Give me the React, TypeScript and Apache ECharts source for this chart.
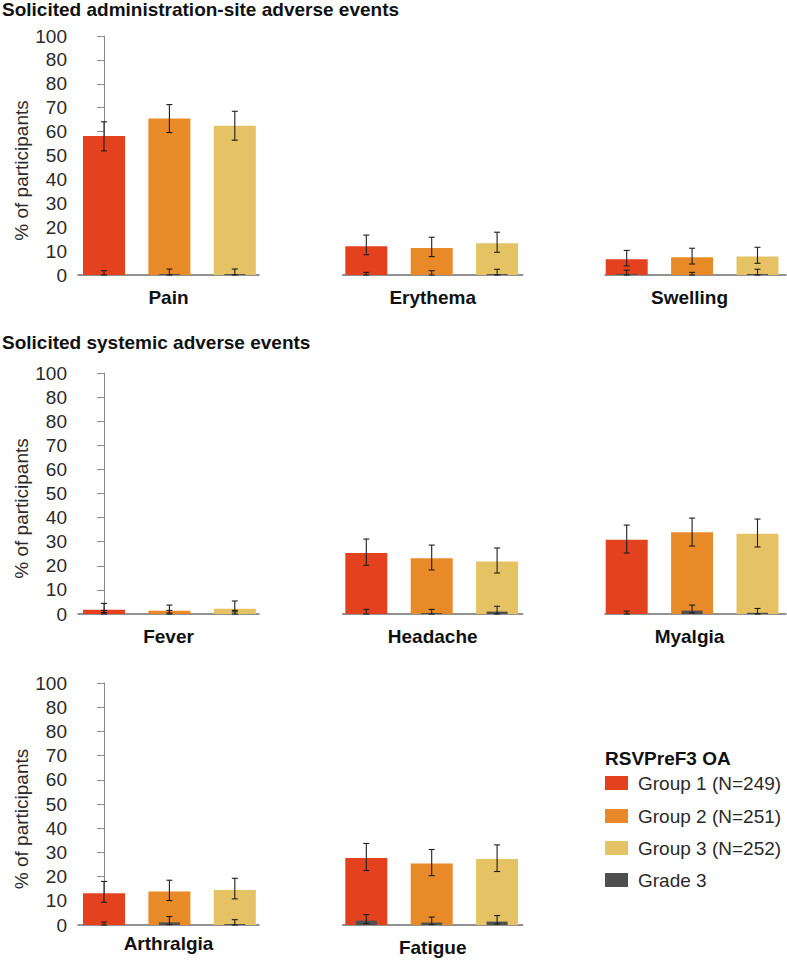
import React, { useEffect, useRef } from "react";
import * as echarts from "echarts";

// ---- data ----
const categories = ["Pain", "Erythema", "Swelling", "Fever", "Headache", "Myalgia", "Arthralgia", "Fatigue"];
const groupNames = ["Group 1 (N=249)", "Group 2 (N=251)", "Group 3 (N=252)"];
const grade3Name = "Grade 3";
const legendTitle = "RSVPreF3 OA";
const sectionTitles = ["Solicited administration-site adverse events", "Solicited systemic adverse events"];
const yAxisName = "% of participants";
const yTickLabels = ["0", "10", "20", "30", "40", "50", "60", "70", "80", "80", "100"];

const group1 = [58.2, 12.0, 6.6, 1.8, 25.3, 30.8, 13.1, 27.7];
const group1Low = [51.9, 8.5, 3.8, 0.6, 20.2, 25.3, 9.4, 22.5];
const group1High = [64.1, 16.7, 10.3, 4.4, 31.1, 36.9, 18.0, 33.7];

const group2 = [65.5, 11.3, 7.4, 1.4, 23.1, 33.9, 13.8, 25.4];
const group2Low = [59.6, 7.7, 4.6, 0.4, 18.3, 28.2, 10.1, 20.4];
const group2High = [71.3, 15.8, 11.2, 3.7, 28.6, 39.8, 18.5, 31.2];

const group3 = [62.5, 13.3, 7.7, 2.2, 21.8, 33.3, 14.5, 27.3];
const group3Low = [56.4, 9.5, 4.9, 0.9, 17.0, 27.8, 10.8, 22.1];
const group3High = [68.5, 17.9, 11.6, 5.4, 27.4, 39.4, 19.3, 33.1];

const grade3G1 = [0, 0, 0.4, 0, 0, 0, 0, 1.8];
const grade3G1Low = [0, 0, 0, 0, 0, 0, 0, 0.6];
const grade3G1High = [1.8, 1.1, 2.0, 1.5, 1.9, 1.2, 1.2, 4.3];

const grade3G2 = [0.4, 0, 0, 0, 0.4, 1.4, 1.1, 1.0];
const grade3G2Low = [0, 0, 0, 0, 0, 0.4, 0.2, 0.2];
const grade3G2High = [2.5, 1.8, 1.1, 1.5, 1.9, 3.7, 3.5, 3.3];

const grade3G3 = [0.4, 0.4, 0.4, 0, 1.0, 0.5, 0.4, 1.4];
const grade3G3Low = [0, 0, 0, 0, 0, 0, 0, 0.4];
const grade3G3High = [2.5, 2.4, 2.4, 1.5, 3.2, 2.3, 2.2, 3.9];

// ---- styles / layout ----
const groupColors = ["#E4411E", "#E88A27", "#E5C263"];
const grade3Color = "#4F4F4F";
const FONT = "'Liberation Sans', Arial, Helvetica, sans-serif";
const W = 787;
const H = 961;

const panelRow = [0, 0, 0, 1, 1, 1, 2, 2];
const panelCol = [0, 1, 2, 0, 1, 2, 0, 1];
const rowTop = [36, 373, 683];
const rowBottom = [275, 614, 925];
const colLeft = [78, 342.7, 605];
const colRight = [259, 522.7, 786];
const colFirstCenter = [104, 366.3, 626.7];
const barSpacing = 65.4;

const groups = [group1, group2, group3];
const groupsLow = [group1Low, group2Low, group3Low];
const groupsHigh = [group1High, group2High, group3High];
const g3 = [grade3G1, grade3G2, grade3G3];
const g3Low = [grade3G1Low, grade3G2Low, grade3G3Low];
const g3High = [grade3G1High, grade3G2High, grade3G3High];

function errorBarRender(params: any, api: any) {
  const x = api.value(0);
  const lo = api.value(1);
  const hi = api.value(2);
  const p1 = api.coord([x, lo]);
  const p2 = api.coord([x, hi]);
  const cap = 3;
  const style = { stroke: "#1e1e1e", lineWidth: 1.1 };
  return {
    type: "group",
    children: [
      { type: "line", shape: { x1: p1[0], y1: p1[1], x2: p2[0], y2: p2[1] }, style },
      { type: "line", shape: { x1: p1[0] - cap, y1: p1[1], x2: p1[0] + cap, y2: p1[1] }, style },
      { type: "line", shape: { x1: p2[0] - cap, y1: p2[1], x2: p2[0] + cap, y2: p2[1] }, style },
    ],
  };
}

function grade3Render(params: any, api: any) {
  const x = api.value(0);
  const v = api.value(1);
  const p0 = api.coord([x, 0]);
  const p1 = api.coord([x, v]);
  const w = 21;
  return {
    type: "rect",
    shape: { x: p0[0] - w / 2, y: p1[1], width: w, height: p0[1] - p1[1] },
    style: { fill: grade3Color },
  };
}

function buildOption() {
  const grid: any[] = [];
  const xAxis: any[] = [];
  const yAxis: any[] = [];
  const series: any[] = [];

  categories.forEach((cat, i) => {
    const r = panelRow[i];
    const c = panelCol[i];
    const left = colLeft[c];
    const right = colRight[c];
    grid.push({
      left,
      top: rowTop[r],
      width: right - left,
      height: rowBottom[r] - rowTop[r],
      containLabel: false,
    });
    xAxis.push({
      type: "value",
      gridIndex: i,
      min: (left - colFirstCenter[c]) / barSpacing,
      max: (right - colFirstCenter[c]) / barSpacing,
      axisLine: { show: true, onZero: false, lineStyle: { color: "#6e6e6e", width: 1.5 } },
      axisTick: { show: false },
      axisLabel: { show: false },
      splitLine: { show: false },
      name: cat,
      nameLocation: "middle",
      nameGap: r === 2 && c === 0 ? 9 : 13,
      nameTextStyle: {
        fontFamily: FONT,
        fontWeight: "bold",
        fontSize: 19,
        color: "#111",
        verticalAlign: "top",
        padding: c === 2 ? [0, 12, 0, 0] : 0,
      },
    });
    const showY = c === 0;
    yAxis.push({
      type: "value",
      gridIndex: i,
      min: 0,
      max: 100,
      interval: 10,
      show: showY,
      axisLine: { show: showY, lineStyle: { color: "#8a8a8a", width: 1 } },
      axisTick: { show: showY, length: 7, lineStyle: { color: "#8a8a8a" } },
      axisLabel: {
        show: showY,
        margin: 11,
        fontFamily: FONT,
        fontSize: 19,
        color: "#2a2a2a",
        formatter: (v: number) => yTickLabels[Math.round(v / 10)],
      },
      splitLine: { show: false },
      name: showY ? yAxisName : "",
      nameLocation: "middle",
      nameGap: 45,
      nameTextStyle: {
        fontFamily: FONT,
        fontSize: 19,
        color: "#2a2a2a",
        padding: [0, 30, 0, 0],
      },
    });

    series.push({
      type: "bar",
      xAxisIndex: i,
      yAxisIndex: i,
      barWidth: 42,
      silent: true,
      data: [0, 1, 2].map((j) => ({
        value: [j, groups[j][i]],
        itemStyle: { color: groupColors[j] },
      })),
      z: 2,
    });
    series.push({
      type: "custom",
      xAxisIndex: i,
      yAxisIndex: i,
      silent: true,
      renderItem: grade3Render,
      data: [0, 1, 2].map((j) => [j, g3[j][i]]),
      z: 3,
    });
    series.push({
      type: "custom",
      xAxisIndex: i,
      yAxisIndex: i,
      silent: true,
      renderItem: errorBarRender,
      data: [0, 1, 2].map((j) => [j, groupsLow[j][i], groupsHigh[j][i]]),
      z: 4,
    });
    series.push({
      type: "custom",
      xAxisIndex: i,
      yAxisIndex: i,
      silent: true,
      renderItem: errorBarRender,
      data: [0, 1, 2].map((j) => [j, g3Low[j][i], g3High[j][i]]),
      z: 4,
    });
  });

  const legendColors = [...groupColors, grade3Color];
  const legendNames = [...groupNames, grade3Name];
  const legendRowY = [783, 816, 848, 880];
  const graphic: any[] = [
    {
      type: "text",
      left: 2,
      top: 0,
      style: { text: sectionTitles[0], font: `bold 19px ${FONT}`, fill: "#111" },
    },
    {
      type: "text",
      left: 2,
      top: 333,
      style: { text: sectionTitles[1], font: `bold 19px ${FONT}`, fill: "#111" },
    },
    {
      type: "text",
      x: 605,
      y: 758,
      style: { text: legendTitle, font: `bold 19px ${FONT}`, fill: "#111", verticalAlign: "middle" },
    },
  ];
  legendNames.forEach((name, k) => {
    graphic.push({
      type: "rect",
      shape: { x: 605, y: legendRowY[k] - 7, width: 23, height: 14 },
      style: { fill: legendColors[k] },
    });
    graphic.push({
      type: "text",
      x: 638,
      y: legendRowY[k],
      style: { text: name, font: `19px ${FONT}`, fill: "#2a2a2a", verticalAlign: "middle" },
    });
  });

  return {
    animation: false,
    backgroundColor: "#ffffff",
    textStyle: { fontFamily: FONT },
    grid,
    xAxis,
    yAxis,
    series,
    graphic,
  };
}

export default function App() {
  const ref = useRef<HTMLDivElement>(null);
  useEffect(() => {
    if (!ref.current) return;
    const chart = echarts.init(ref.current, undefined, { renderer: "svg" });
    chart.setOption(buildOption() as any);
    return () => chart.dispose();
  }, []);
  return (
    <div
      ref={ref}
      style={{ position: "fixed", left: 0, top: 0, width: W, height: H, background: "#fff" }}
    />
  );
}
